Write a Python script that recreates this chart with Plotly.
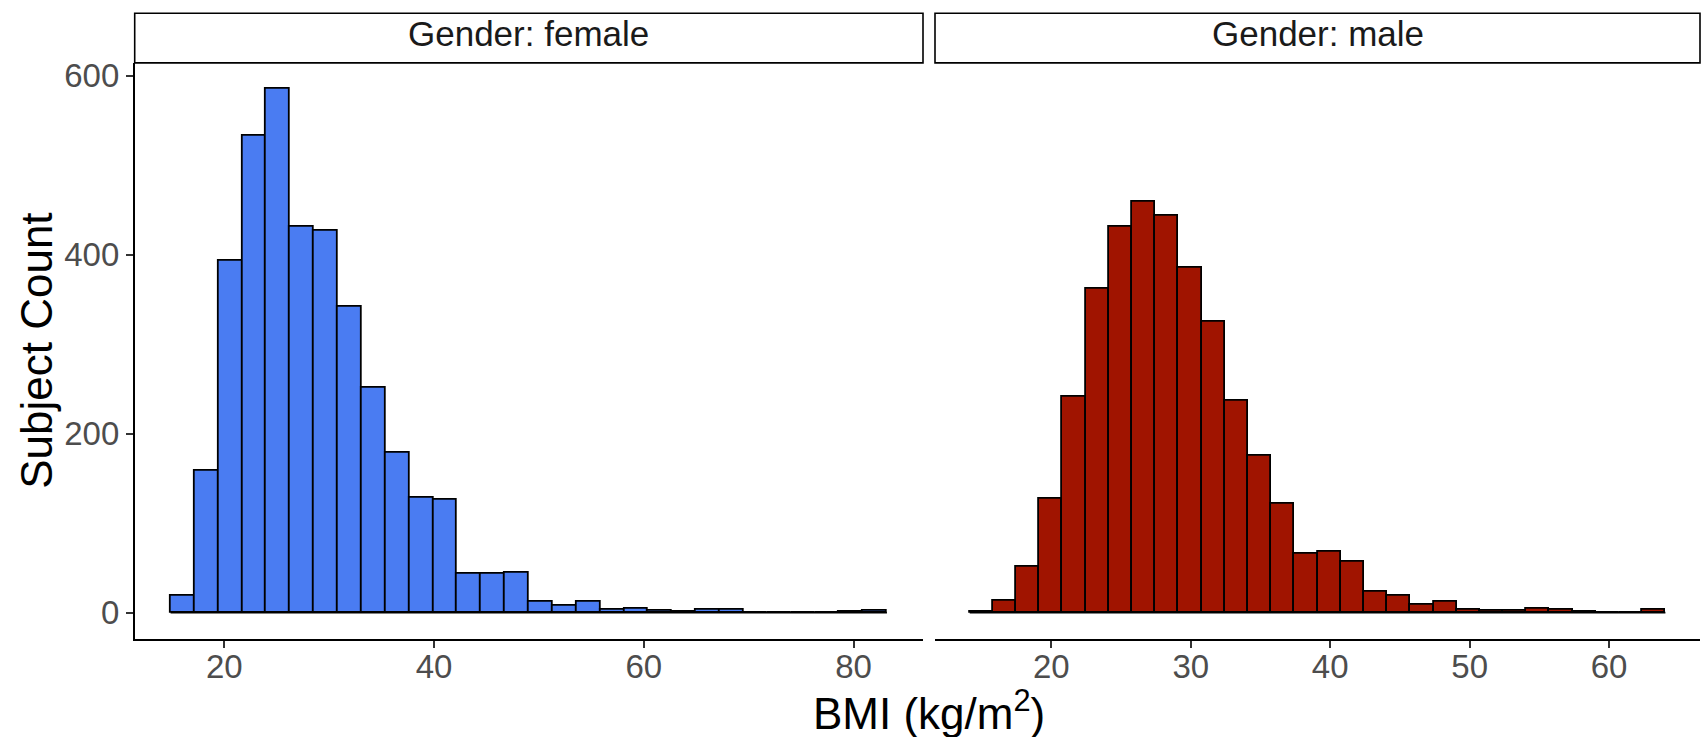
import plotly.graph_objects as go

# ---- data ----
female_bin_start = 14.87
female_bin_width = 2.277
female_counts = [19, 158, 393, 533, 585, 431, 427, 342, 251, 179, 128, 126, 43, 43, 44,
                 12, 8, 12, 3, 4, 2, 1, 3, 3, 0, 0, 0, 0, 1, 2]

male_bin_start = 14.15
male_bin_width = 1.663
male_counts = [1, 13, 51, 127, 241, 362, 431, 459, 443, 385, 325, 237, 175, 122, 66,
               68, 57, 23, 19, 9, 12, 3, 2, 2, 4, 3, 1, 0, 0, 3]

panel_labels = ["Gender: female", "Gender: male"]
y_ticks = [0, 200, 400, 600]
female_x_ticks = [20, 40, 60, 80]
male_x_ticks = [20, 30, 40, 50, 60]

W, H = 1706, 737
FONT = "Liberation Sans, Arial, Helvetica, sans-serif"
BLUE = "#4A7CF2"
RED = "#A01400"


def centers(start, width, n):
    return [start + width * (i + 0.5) for i in range(n)]


def px_x(p):
    return p / W


def px_y(p):
    return 1 - p / H


fig = go.Figure()

for counts, start, width, color, xa, ya in [
    (female_counts, female_bin_start, female_bin_width, BLUE, "x", "y"),
    (male_counts, male_bin_start, male_bin_width, RED, "x2", "y2"),
]:
    n = len(counts)
    fig.add_trace(go.Bar(
        x=centers(start, width, n), y=counts, width=width,
        marker=dict(color=color, line=dict(color="black", width=1.8)),
        xaxis=xa, yaxis=ya, showlegend=False, hoverinfo="x+y",
    ))
    # baseline of the histogram (zero-count bins drawn as a flat line)
    fig.add_trace(go.Scatter(
        x=[start, start + width * n], y=[0, 0], mode="lines",
        line=dict(color="black", width=1.8), xaxis=xa, yaxis=ya,
        showlegend=False, hoverinfo="skip",
    ))

left_dom = [px_x(134.7), px_x(923)]
right_dom = [px_x(935), px_x(1700)]
y_dom = [px_y(638), px_y(57.3)]

tickfont = dict(family=FONT, size=33, color="#4D4D4D")
common_x = dict(showgrid=False, zeroline=False, showline=True, linecolor="black",
                linewidth=1.6, ticks="outside", ticklen=7, tickwidth=1.6,
                tickcolor="#333333", tickfont=tickfont, ticklabelstandoff=-9)

fig.update_layout(
    width=W, height=H,
    margin=dict(l=0, r=0, t=0, b=0),
    paper_bgcolor="white", plot_bgcolor="white",
    bargap=0,
    xaxis=dict(domain=left_dom, range=[11.45, 86.62], tickvals=female_x_ticks,
               anchor="y", **common_x),
    xaxis2=dict(domain=right_dom, range=[11.66, 66.52], tickvals=male_x_ticks,
                anchor="y2", **common_x),
    yaxis=dict(domain=y_dom, range=[-29.25, 614.25], tickvals=y_ticks,
               showgrid=False, zeroline=False, showline=True, linecolor="black",
               linewidth=1.6, ticks="outside", ticklen=7, tickwidth=1.6,
               tickcolor="#333333", tickfont=tickfont, anchor="x"),
    yaxis2=dict(domain=y_dom, range=[-29.25, 614.25], tickvals=y_ticks,
                showgrid=False, zeroline=False, showline=False,
                showticklabels=False, ticks="", anchor="x2", matches="y"),
    font=dict(family=FONT),
)

# facet strips
strip_top, strip_bot = px_y(7.3), px_y(57.3)
for dom, label in zip([left_dom, right_dom], panel_labels):
    fig.add_shape(type="rect", xref="paper", yref="paper",
                  x0=dom[0], x1=dom[1], y0=strip_bot, y1=strip_top,
                  line=dict(color="black", width=1.6), fillcolor="white")
    fig.add_annotation(xref="paper", yref="paper", x=(dom[0] + dom[1]) / 2,
                       y=px_y(28), text=label, showarrow=False,
                       xanchor="center", yanchor="middle",
                       font=dict(family=FONT, size=35, color="#1A1A1A"))

# axis titles
fig.add_annotation(xref="paper", yref="paper", x=px_x(37), y=(y_dom[0] + y_dom[1]) / 2,
                   text="Subject Count", textangle=-90, showarrow=False,
                   xanchor="center", yanchor="middle",
                   font=dict(family=FONT, size=44, color="black"))
fig.add_annotation(xref="paper", yref="paper", x=px_x(929), y=px_y(710),
                   text="BMI (kg/m<sup>2</sup>)", showarrow=False,
                   xanchor="center", yanchor="middle",
                   font=dict(family=FONT, size=44, color="black"))

fig.write_html("out.html", config={"displayModeBar": False},
               post_script="document.body.style.margin='0px';document.body.style.overflow='hidden';")
